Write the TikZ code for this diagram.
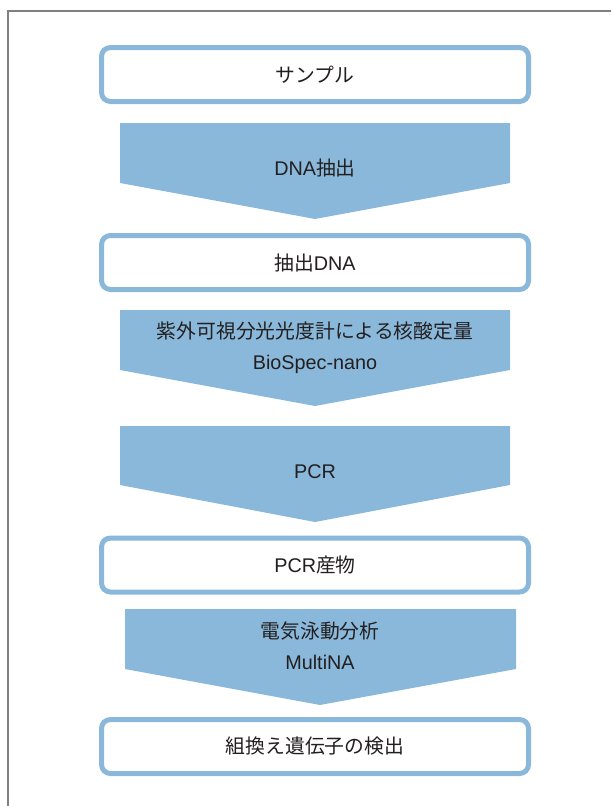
\documentclass[tikz,border=0pt]{standalone}
\usepackage{fontspec}
\setmainfont{Liberation Sans}
\newfontfamily\jafont{Noto Sans CJK JP}
\newcommand{\ja}[1]{{\jafont #1}}
\usetikzlibrary{positioning}
\definecolor{sky}{HTML}{8AB8DA}
\definecolor{ink}{HTML}{231F20}
\definecolor{edge}{HTML}{808080}
\tikzset{
  stepbox/.style={draw=sky, line width=5pt, fill=white, rounded corners=9pt,
                  minimum width=427pt, minimum height=54pt, inner sep=0pt},
  chev/.style   ={fill=sky, draw=none},
  lbl/.style    ={align=center, inner sep=0pt},
  frame/.style  ={draw=edge, line width=1.2pt},
}

\begin{document}
\begin{tikzpicture}[x=1pt,y=-1pt,font=\fontsize{19.8}{31}\selectfont,text=ink]
    \useasboundingbox (0,0) rectangle (611,806);
    \draw[frame] (8,806) |- (611,11);

    % result boxes
    \node[stepbox] (b1) at (315,74.5) {\ja{サンプル}};
    \node[stepbox] (b2) at (315,262.5) {\ja{抽出}DNA};
    \node[stepbox] (b3) at (315,565) {PCR\ja{産物}};
    \node[stepbox] (b4) at (315,746.5) {\ja{組換え遺伝子の検出}};

    % process chevrons
    \fill[chev] (120,123) -- (510,123) -- (510,183) -- (315,219) -- (120,183) -- cycle;
    \node[lbl] (p1) at (315,168) {DNA\ja{抽出}};
    \fill[chev] (120,310) -- (510,310) -- (510,370) -- (315,406) -- (120,370) -- cycle;
    \node[lbl] (p2) at (315,347.5) {\ja{紫外可視分光光度計による核酸定量}\\BioSpec-nano};
    \fill[chev] (120,426) -- (510,426) -- (510,485) -- (315,522) -- (120,485) -- cycle;
    \node[lbl] (p3) at (315,472) {PCR};
    \fill[chev] (125,609) -- (516,609) -- (516,669) -- (320,705) -- (125,669) -- cycle;
    \node[lbl] (p4) at (320,645.5) {\ja{電気泳動分析}\\MultiNA};
\end{tikzpicture}
\end{document}
